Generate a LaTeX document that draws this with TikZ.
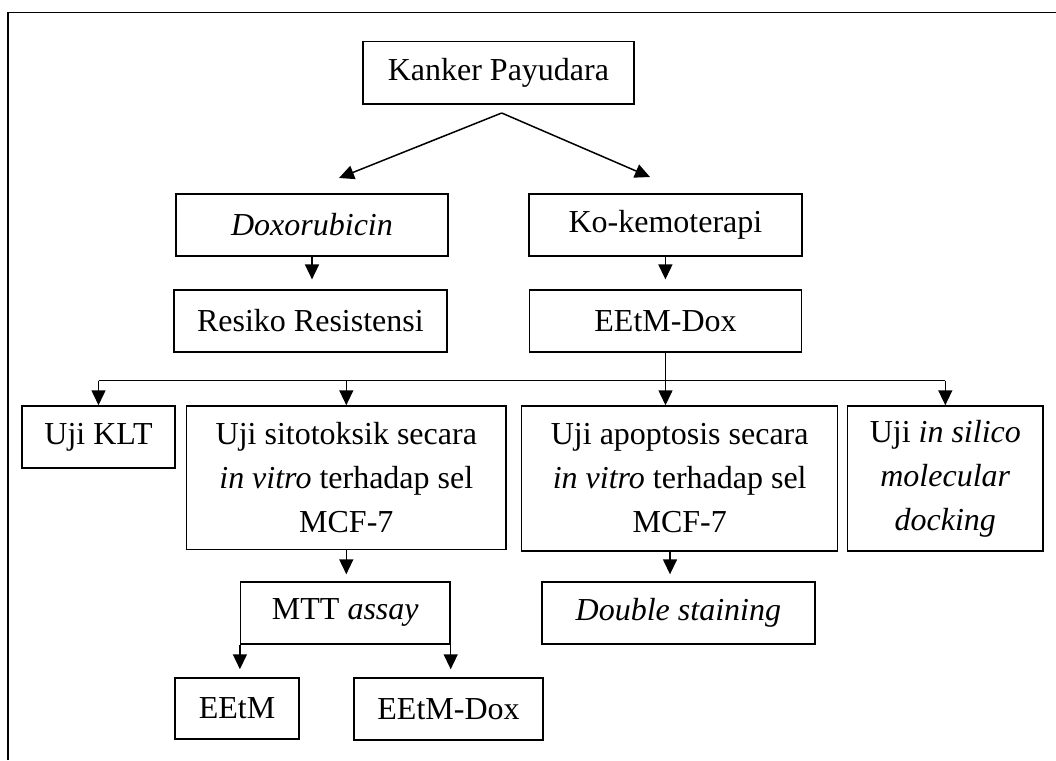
\documentclass[tikz,border=0pt]{standalone}
\usepackage{fontspec}
\setmainfont{Liberation Serif}
\usetikzlibrary{arrows.meta,calc}
\begin{document}
\begin{tikzpicture}[x=1pt,y=-1pt,
  box/.style={draw, line width=1.5pt, inner sep=0pt, align=center,
    font=\fontsize{32}{44}\selectfont},
  arr/.style={line width=1.5pt, -{Triangle[length=15pt,width=14pt]}},
  ln/.style={line width=1.5pt},
  frame/.style={line width=1.3pt}]
\useasboundingbox (0,0) rectangle (1056,760);
% frame
\coordinate (fbl) at (8,760);
\coordinate (ftl) at (8,12.7);
\coordinate (ftr) at (1056,12.7);
\draw[frame] (fbl) -- (ftl) -- (ftr);
% nodes
\node[box, minimum width=271.3pt, minimum height=62.3pt] (kp) at (498.4,72.85) {Kanker Payudara};
\node[box, minimum width=272pt, minimum height=62pt] (dox) at (312,225) {\textit{Doxorubicin}};
\node[box, minimum width=272.7pt, minimum height=62pt] (ko) at (665.4,225) {Ko-kemoterapi};
\node[box, minimum width=272.7pt, minimum height=61.7pt] (res) at (310.4,321) {Resiko Resistensi};
\node[box, minimum width=272.4pt, minimum height=61.7pt] (eed) at (665.5,321) {EEtM-Dox};
\node[box, minimum width=153pt, minimum height=62pt] (klt) at (98.5,437) {Uji KLT};
\node[box, minimum width=319.3pt, minimum height=143.3pt] (sit) at (346.3,477.65) {Uji sitotoksik secara\\\textit{in vitro} terhadap sel\\MCF-7};
\node[box, minimum width=316pt, minimum height=145pt] (apo) at (679.7,478.5) {Uji apoptosis secara\\\textit{in vitro} terhadap sel\\MCF-7};
\node[box, minimum width=195.3pt, minimum height=145pt] (sil) at (945.3,478.5) {Uji \textit{in silico}\\\textit{molecular}\\\textit{docking}};
\node[box, minimum width=209.3pt, minimum height=62.3pt] (mtt) at (345.3,612.9) {MTT \textit{assay}};
\node[box, minimum width=273.3pt, minimum height=62.3pt] (dbl) at (678.4,612.9) {\textit{Double staining}};
\node[box, minimum width=124pt, minimum height=61pt] (eet) at (237,708.5) {EEtM};
\node[box, minimum width=189pt, minimum height=62pt] (eed2) at (448.5,709) {EEtM-Dox};
% top split
\coordinate (apex) at (501.7,113);
\coordinate (tl) at (339,178);
\coordinate (tr) at (650,177);
\draw[arr] (apex) -- (tl);
\draw[arr] (apex) -- (tr);
% second level
\draw[arr, shorten >=10pt] (dox.south) -- (dox.south |- res.north);
\draw[arr, shorten >=10pt] (ko.south) -- (ko.south |- eed.north);
% bar
\coordinate (bl) at (98.5,380.7);
\coordinate (br) at (945.3,380.7);
\draw[ln] (bl) -- (br);
\draw[arr] (eed.south) -- (eed.south |- apo.north);
\draw[arr] (klt.north |- bl) -- (klt.north);
\draw[arr] (sit.north |- bl) -- (sit.north);
\draw[arr] (sil.north |- br) -- (sil.north);
% lower
\draw[arr, shorten >=6.7pt] (sit.south) -- (sit.south |- mtt.north);
\draw[arr, shorten >=6.7pt] ([xshift=-9.7pt]apo.south) -- ([xshift=-8.4pt]dbl.north);
\draw[arr, shorten >=8pt] (mtt.south west) -- (mtt.south west |- eet.north);
\draw[arr, shorten >=8pt] (mtt.south east) -- (mtt.south east |- eed2.north);
\end{tikzpicture}
\end{document}
